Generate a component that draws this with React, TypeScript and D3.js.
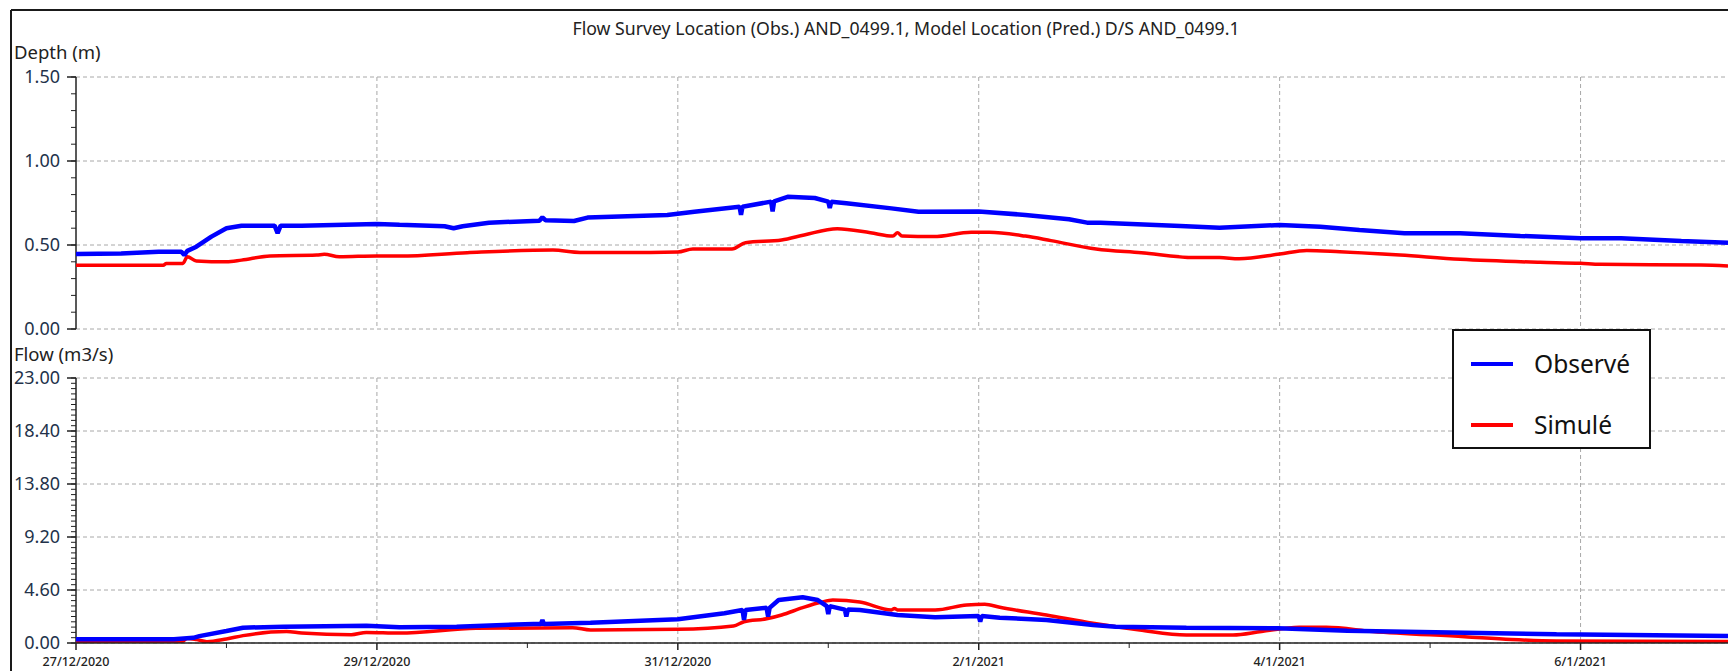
import React from 'react';
import * as d3 from 'd3';

// ---------- DATA ----------
const START = new Date(2020, 11, 27).getTime();
const DAY_MS = 86400000;
const END_DAYS = 10.98;

const xMajorDays = [0, 2, 4, 6, 8, 10];
const xMinorDays = [1, 3, 5, 7, 9];
const xTickLabels = ['27/12/2020', '29/12/2020', '31/12/2020', '2/1/2021', '4/1/2021', '6/1/2021'];

const depthTicks = [0, 0.5, 1.0, 1.5];
const depthTickLabels = ['0.00', '0.50', '1.00', '1.50'];
const flowTicks = [0, 4.6, 9.2, 13.8, 18.4, 23];
const flowTickLabels = ['0.00', '4.60', '9.20', '13.80', '18.40', '23.00'];

const depthObsDays = [0, 0.3, 0.55, 0.7, 0.72, 0.74, 0.8, 0.9, 1.0, 1.1, 1.32, 1.34, 1.36, 1.5, 2.0, 2.15, 2.45, 2.51, 2.57, 2.745, 3.08, 3.1, 3.12, 3.31, 3.4, 3.93, 4.11, 4.41, 4.42, 4.43, 4.62, 4.63, 4.64, 4.73, 4.91, 5.0, 5.01, 5.02, 5.12, 5.42, 5.6, 6.0, 6.31, 6.6, 6.72, 6.81, 7.34, 7.6, 8.0, 8.27, 8.53, 8.83, 9.2, 9.6, 10.0, 10.27, 10.67, 10.98];
const depthObsValues = [0.446, 0.45, 0.46, 0.46, 0.44, 0.465, 0.49, 0.55, 0.6, 0.615, 0.615, 0.57, 0.615, 0.615, 0.625, 0.62, 0.612, 0.6, 0.612, 0.633, 0.645, 0.665, 0.648, 0.643, 0.663, 0.679, 0.698, 0.728, 0.68, 0.728, 0.758, 0.7, 0.76, 0.787, 0.78, 0.758, 0.72, 0.758, 0.748, 0.718, 0.698, 0.7, 0.679, 0.653, 0.633, 0.633, 0.613, 0.603, 0.619, 0.609, 0.589, 0.57, 0.57, 0.554, 0.54, 0.54, 0.524, 0.514];

const depthSimDays = [0, 0.58, 0.6, 0.71, 0.74, 0.8, 1.0, 1.1, 1.29, 1.6, 1.65, 1.75, 2.0, 2.154, 2.6, 3.17, 3.35, 3.82, 4.0, 4.1, 4.36, 4.45, 4.69, 4.84, 5.06, 5.28, 5.43, 5.46, 5.49, 5.7, 5.95, 6.07, 6.31, 6.48, 6.78, 7.08, 7.43, 7.6, 7.73, 8.0, 8.18, 8.4, 8.8, 9.2, 9.73, 10.0, 10.13, 10.8, 10.98];
const depthSimValues = [0.38, 0.38, 0.39, 0.39, 0.43, 0.405, 0.4, 0.41, 0.435, 0.44, 0.445, 0.43, 0.435, 0.434, 0.454, 0.47, 0.456, 0.456, 0.458, 0.476, 0.476, 0.514, 0.53, 0.56, 0.597, 0.573, 0.553, 0.573, 0.553, 0.55, 0.576, 0.576, 0.553, 0.526, 0.476, 0.454, 0.425, 0.425, 0.418, 0.446, 0.468, 0.46, 0.44, 0.415, 0.397, 0.391, 0.385, 0.381, 0.375];

const flowObsDays = [0, 0.65, 0.78, 0.82, 1.0, 1.11, 1.38, 1.93, 2.15, 2.53, 3.04, 3.09, 3.1, 3.11, 3.42, 4.0, 4.31, 4.43, 4.44, 4.45, 4.59, 4.6, 4.61, 4.67, 4.83, 4.93, 4.99, 5.0, 5.01, 5.11, 5.12, 5.13, 5.21, 5.46, 5.71, 6.0, 6.01, 6.02, 6.14, 6.45, 6.76, 6.91, 7.38, 7.99, 8.45, 9.23, 9.84, 10.98];
const flowObsValues = [0.32, 0.32, 0.45, 0.6, 1.04, 1.33, 1.42, 1.5, 1.36, 1.42, 1.65, 1.65, 2.0, 1.65, 1.76, 2.06, 2.58, 2.87, 2.0, 2.87, 3.05, 2.3, 3.05, 3.73, 3.97, 3.73, 3.2, 2.5, 3.2, 2.9, 2.3, 2.9, 2.87, 2.43, 2.23, 2.34, 1.85, 2.34, 2.2, 2.0, 1.56, 1.42, 1.33, 1.27, 1.07, 0.9, 0.75, 0.6];

const flowSimDays = [0, 0.7, 0.74, 0.8, 0.87, 1.0, 1.11, 1.4, 1.5, 1.83, 1.93, 2.15, 2.66, 3.3, 3.42, 4.0, 4.37, 4.44, 4.59, 4.69, 4.83, 4.95, 5.03, 5.21, 5.42, 5.44, 5.46, 5.71, 5.92, 6.04, 6.14, 6.45, 6.76, 7.07, 7.38, 7.69, 7.88, 8.13, 8.31, 8.62, 9.23, 9.54, 9.84, 10.98];
const flowSimValues = [0.11, 0.11, 0.4, 0.3, 0.11, 0.35, 0.64, 1.0, 0.86, 0.72, 0.92, 0.86, 1.27, 1.33, 1.13, 1.19, 1.48, 1.85, 2.1, 2.43, 3.07, 3.53, 3.73, 3.56, 2.87, 3.0, 2.87, 2.87, 3.3, 3.36, 3.1, 2.43, 1.71, 1.13, 0.7, 0.7, 1.0, 1.36, 1.36, 1.0, 0.55, 0.3, 0.17, 0.12];

const title = 'Flow Survey Location (Obs.) AND_0499.1, Model Location (Pred.) D/S AND_0499.1';
const depthLabel = 'Depth (m)';
const flowLabel = 'Flow (m3/s)';
const legendLabels = ['Observé', 'Simulé'];
const seriesColors = ['#0000ff', '#ff0000'];

// ---------- HELPERS ----------
const toDate = (d: number) => new Date(START + d * DAY_MS);
const zip = (days: number[], vals: number[]) => days.map((d, i) => ({ t: toDate(d), v: vals[i] }));

const FONT = '"Noto Sans", "Open Sans", sans-serif';

export default function App() {
  const W = 1728, H = 671;
  const left = 76, right = 1728;
  const x = d3.scaleTime().domain([toDate(0), toDate(END_DAYS)]).range([left, right]);
  const depthY = d3.scaleLinear().domain([0, 1.5]).range([329, 77]);
  const flowY = d3.scaleLinear().domain([0, 23]).range([643, 378]);

  const depthMinor = d3.range(0, 1.5001, 0.1);
  const flowMinor = d3.range(0, 23.001, 0.46);

  const mkLine = (y: d3.ScaleLinear<number, number>, curve: d3.CurveFactory) =>
    d3.line<{ t: Date; v: number }>().x(d => x(d.t)).y(d => y(d.v)).curve(curve);

  const panels = [
    { key: 'depth', y: depthY, ticks: depthTicks, labels: depthTickLabels, minor: depthMinor, obs: zip(depthObsDays, depthObsValues), sim: zip(depthSimDays, depthSimValues) },
    { key: 'flow', y: flowY, ticks: flowTicks, labels: flowTickLabels, minor: flowMinor, obs: zip(flowObsDays, flowObsValues), sim: zip(flowSimDays, flowSimValues) },
  ];

  const gridStyle = { stroke: '#a8a8a8', strokeWidth: 1, strokeDasharray: '4,3', fill: 'none' } as const;

  return (
    <svg width={W} height={H} style={{ position: 'fixed', left: 0, top: 0, display: 'block', background: '#fff' }} fontFamily={FONT}>
      <rect x={0} y={0} width={W} height={H} fill="#fff" />
      <defs>
        {panels.map(p => (
          <clipPath id={`clip-${p.key}`} key={p.key}>
            <rect x={left} y={p.y.range()[1] - 2} width={right - left} height={p.y.range()[0] - p.y.range()[1] + 2} />
          </clipPath>
        ))}
      </defs>
      <line x1={11} y1={10} x2={W} y2={10} stroke="#1a1a1a" strokeWidth={2} />
      <line x1={11} y1={10} x2={11} y2={H} stroke="#1a1a1a" strokeWidth={2} />

      <text x={906} y={35} textAnchor="middle" fontSize={17.7} fill="#222">{title}</text>
      <text x={14} y={59} fontSize={18.5} fill="#222">{depthLabel}</text>
      <text x={14} y={361} fontSize={18.5} fill="#222">{flowLabel}</text>

      {panels.map(p => {
        const [y0, y1] = p.y.range();
        return (
          <g key={p.key}>
            {p.ticks.map(t => (
              <line key={'h' + t} x1={left} x2={right} y1={p.y(t)} y2={p.y(t)} style={gridStyle} />
            ))}
            {xMajorDays.filter(d => d > 0).map(d => (
              <line key={'v' + d} x1={x(toDate(d))} x2={x(toDate(d))} y1={y1} y2={y0} style={gridStyle} />
            ))}
            <line x1={left} x2={left} y1={y1} y2={y0} stroke="#222" strokeWidth={1.5} />
            {p.minor.map((t, i) => (
              <line key={'m' + i} x1={left - 5} x2={left} y1={p.y(t)} y2={p.y(t)} stroke="#222" strokeWidth={1} />
            ))}
            {p.ticks.map((t, i) => (
              <g key={'t' + i}>
                <line x1={left - 9} x2={left} y1={p.y(t)} y2={p.y(t)} stroke="#222" strokeWidth={1.5} />
                <text x={60} y={p.y(t)} dy="0.35em" textAnchor="end" fontSize={18} fill="#23324a">{p.labels[i]}</text>
              </g>
            ))}
            <g clipPath={`url(#clip-${p.key})`}>
              <path d={mkLine(p.y, d3.curveMonotoneX)(p.sim) || ''} fill="none" stroke={seriesColors[1]} strokeWidth={3.5} strokeLinejoin="round" />
              <path d={mkLine(p.y, d3.curveLinear)(p.obs) || ''} fill="none" stroke={seriesColors[0]} strokeWidth={4.5} strokeLinejoin="bevel" />
            </g>
          </g>
        );
      })}

      <line x1={left} x2={right} y1={643} y2={643} stroke="#222" strokeWidth={1.5} />
      {xMajorDays.map((d, i) => (
        <g key={'xl' + d}>
          <line x1={x(toDate(d))} x2={x(toDate(d))} y1={643} y2={650} stroke="#222" strokeWidth={1.5} />
          <text x={x(toDate(d))} y={662} dy="0.35em" textAnchor="middle" fontSize={12.5} fontWeight={500} fill="#222">{xTickLabels[i]}</text>
        </g>
      ))}
      {xMinorDays.map(d => (
        <line key={'xm' + d} x1={x(toDate(d))} x2={x(toDate(d))} y1={643} y2={648} stroke="#222" strokeWidth={1} />
      ))}

      <g>
        <rect x={1453} y={330} width={197} height={118} fill="#fff" stroke="#111" strokeWidth={2} />
        {legendLabels.map((lab, i) => {
          const ly = i === 0 ? 364 : 425;
          return (
            <g key={lab}>
              <line x1={1471} x2={1513} y1={ly} y2={ly} stroke={seriesColors[i]} strokeWidth={4} />
              <text x={1534} y={ly} dy="0.35em" fontSize={24.5} fill="#111">{lab}</text>
            </g>
          );
        })}
      </g>
    </svg>
  );
}
